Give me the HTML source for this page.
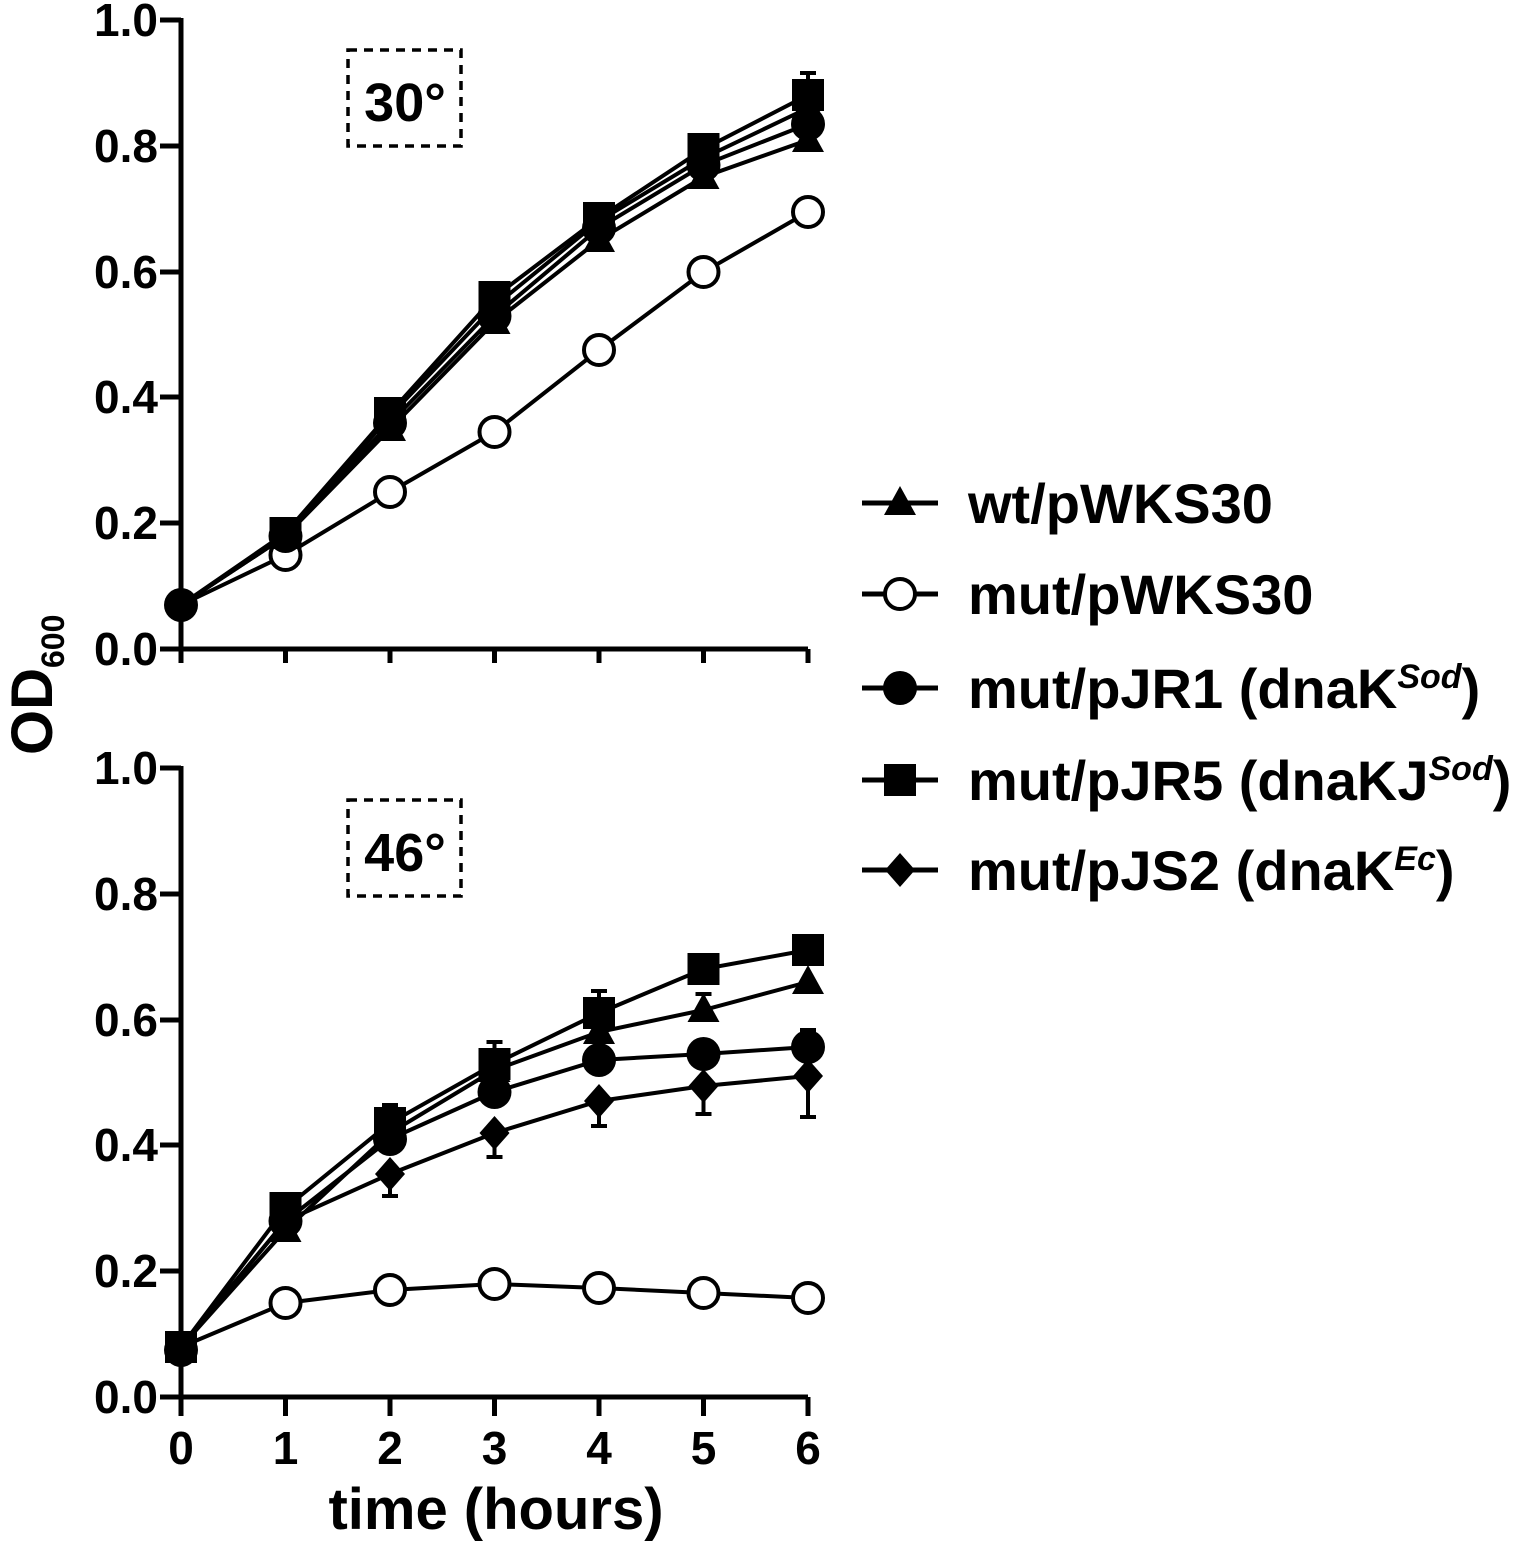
<!DOCTYPE html><html><head><style>body{margin:0;background:#fff}svg{display:block}text{font-family:"Liberation Sans",Arial,sans-serif;font-weight:bold;fill:#000}</style></head><body>
<svg width="1525" height="1541" viewBox="0 0 1525 1541" xmlns="http://www.w3.org/2000/svg">
<defs>
<g id="tri"><polygon points="0,-17 16,12 -16,12" fill="#000"/></g>
<g id="oc"><circle r="15" fill="#fff" stroke="#000" stroke-width="4"/></g>
<g id="fc"><circle r="17" fill="#000"/></g>
<g id="sq"><rect x="-16" y="-16" width="32" height="32" fill="#000"/></g>
<g id="dm"><polygon points="0,-17 15,0 0,17 -15,0" fill="#000"/></g>
</defs>
<g stroke="#000" stroke-width="5" fill="none">
<path d="M181,18 V649 H808"/>
<path d="M160,20H181M160,146H181M160,272H181M160,397H181M160,523H181M160,649H181"/>
<path d="M181,649v14M285.5,649v14M390,649v14M494.5,649v14M599,649v14M703.5,649v14M808,649v14"/>
<path d="M181,766 V1397 H808"/>
<path d="M160,768H181M160,894H181M160,1020H181M160,1145H181M160,1271H181M160,1397H181"/>
<path d="M181,1397v19M285.5,1397v19M390,1397v19M494.5,1397v19M599,1397v19M703.5,1397v19M808,1397v19"/>
</g>
<g stroke="#000" stroke-width="3.5" fill="none" stroke-dasharray="9,7">
<rect x="348" y="50" width="113" height="96"/>
<rect x="348" y="800" width="113" height="96"/>
</g>
<text x="405" y="121" font-size="54" text-anchor="middle">30°</text>
<text x="405" y="871" font-size="54" text-anchor="middle">46°</text>
<g font-size="46" text-anchor="end">
<text x="158" y="36">1.0</text><text x="158" y="162">0.8</text><text x="158" y="288">0.6</text><text x="158" y="413">0.4</text><text x="158" y="539">0.2</text><text x="158" y="665">0.0</text>
<text x="158" y="784">1.0</text><text x="158" y="910">0.8</text><text x="158" y="1036">0.6</text><text x="158" y="1161">0.4</text><text x="158" y="1287">0.2</text><text x="158" y="1413">0.0</text>
</g>
<g font-size="46" text-anchor="middle">
<text x="181" y="1464">0</text><text x="285.5" y="1464">1</text><text x="390" y="1464">2</text><text x="494.5" y="1464">3</text><text x="599" y="1464">4</text><text x="703.5" y="1464">5</text><text x="808" y="1464">6</text>
</g>
<text x="496" y="1529" font-size="58" text-anchor="middle">time (hours)</text>
<text transform="translate(52,755) rotate(-90)" font-size="58">OD<tspan font-size="32" dy="12">600</tspan></text>
<g stroke="#000" stroke-width="4" fill="none">
<polyline points="181,605 285.5,536 390,429 494.5,322 599,240 703.5,177 808,140"/>
<polyline points="181,605 285.5,555 390,492 494.5,432 599,350 703.5,272 808,212"/>
<polyline points="181,605 285.5,536 390,423 494.5,316 599,228 703.5,165 808,124"/>
<polyline points="181,605 285.5,533 390,413 494.5,297 599,218 703.5,149 808,95"/>
<polyline points="181,605 285.5,536 390,416 494.5,306 599,221 703.5,158 808,108"/>
<path d="M808,95V73M800,73h16"/>
<polyline points="181,1347 285.5,1230 390,1133 494.5,1070 599,1032 703.5,1010 808,982"/>
<polyline points="181,1347 285.5,1303 390,1290 494.5,1284 599,1288 703.5,1293 808,1298"/>
<polyline points="181,1347 285.5,1221 390,1139 494.5,1092 599,1060 703.5,1054 808,1047"/>
<polyline points="181,1347 285.5,1208 390,1123 494.5,1064 599,1013 703.5,969 808,950"/>
<polyline points="181,1347 285.5,1221 390,1174 494.5,1133 599,1101 703.5,1086 808,1076"/>
<path d="M390,1174v22M382,1196h16M494.5,1133v24M486.5,1157h16M599,1101v25M591,1126h16M703.5,1086v28M695.5,1114h16M808,1076v41M800,1117h16"/>
<path d="M494.5,1064v-22M486.5,1042h16M599,1013v-22M591,991h16M703.5,1010v-16M695.5,994h16M808,1047v-17M800,1030h16M390,1123v-18M382,1105h16"/>
</g>
<g>
<use href="#oc" x="285.5" y="555"/><use href="#oc" x="390" y="492"/><use href="#oc" x="494.5" y="432"/><use href="#oc" x="599" y="350"/><use href="#oc" x="703.5" y="272"/><use href="#oc" x="808" y="212"/>
<use href="#tri" x="285.5" y="536"/><use href="#tri" x="390" y="429"/><use href="#tri" x="494.5" y="322"/><use href="#tri" x="599" y="240"/><use href="#tri" x="703.5" y="177"/><use href="#tri" x="808" y="140"/>
<use href="#fc" x="285.5" y="536"/><use href="#fc" x="390" y="423"/><use href="#fc" x="494.5" y="316"/><use href="#fc" x="599" y="228"/><use href="#fc" x="703.5" y="165"/><use href="#fc" x="808" y="124"/>
<use href="#dm" x="285.5" y="536"/><use href="#dm" x="390" y="416"/><use href="#dm" x="494.5" y="306"/><use href="#dm" x="599" y="221"/><use href="#dm" x="703.5" y="158"/><use href="#dm" x="808" y="108"/>
<use href="#sq" x="285.5" y="533"/><use href="#sq" x="390" y="413"/><use href="#sq" x="494.5" y="297"/><use href="#sq" x="599" y="218"/><use href="#sq" x="703.5" y="149"/><use href="#sq" x="808" y="95"/>
<use href="#fc" x="181" y="605"/>
</g>
<g>
<use href="#oc" x="285.5" y="1303"/><use href="#oc" x="390" y="1290"/><use href="#oc" x="494.5" y="1284"/><use href="#oc" x="599" y="1288"/><use href="#oc" x="703.5" y="1293"/><use href="#oc" x="808" y="1298"/>
<use href="#tri" x="285.5" y="1230"/><use href="#tri" x="390" y="1133"/><use href="#tri" x="494.5" y="1070"/><use href="#tri" x="599" y="1032"/><use href="#tri" x="703.5" y="1010"/><use href="#tri" x="808" y="982"/>
<use href="#fc" x="285.5" y="1221"/><use href="#fc" x="390" y="1139"/><use href="#fc" x="494.5" y="1092"/><use href="#fc" x="599" y="1060"/><use href="#fc" x="703.5" y="1054"/><use href="#fc" x="808" y="1047"/>
<use href="#dm" x="285.5" y="1221"/><use href="#dm" x="390" y="1174"/><use href="#dm" x="494.5" y="1133"/><use href="#dm" x="599" y="1101"/><use href="#dm" x="703.5" y="1086"/><use href="#dm" x="808" y="1076"/>
<use href="#sq" x="285.5" y="1208"/><use href="#sq" x="390" y="1123"/><use href="#sq" x="494.5" y="1064"/><use href="#sq" x="599" y="1013"/><use href="#sq" x="703.5" y="969"/><use href="#sq" x="808" y="950"/>
<use href="#sq" x="181" y="1347"/><use href="#fc" x="181" y="1350"/>
</g>
<g stroke="#000" stroke-width="5">
<path d="M862,503H938M862,594H938M862,688H938M862,780H938M862,870H938"/>
</g>
<use href="#tri" x="900" y="503"/><use href="#oc" x="900" y="594"/><use href="#fc" x="900" y="688"/><use href="#sq" x="900" y="780"/><use href="#dm" x="900" y="870"/>
<g font-size="56">
<text x="968" y="523">wt/pWKS30</text>
<text x="968" y="614">mut/pWKS30</text>
<text x="968" y="708">mut/pJR1 (dnaK<tspan font-size="34" font-style="italic" dy="-20">Sod</tspan><tspan dy="20">)</tspan></text>
<text x="968" y="800">mut/pJR5 (dnaKJ<tspan font-size="34" font-style="italic" dy="-20">Sod</tspan><tspan dy="20">)</tspan></text>
<text x="968" y="890">mut/pJS2 (dnaK<tspan font-size="34" font-style="italic" dy="-20">Ec</tspan><tspan dy="20">)</tspan></text>
</g>
</svg>
</body></html>
